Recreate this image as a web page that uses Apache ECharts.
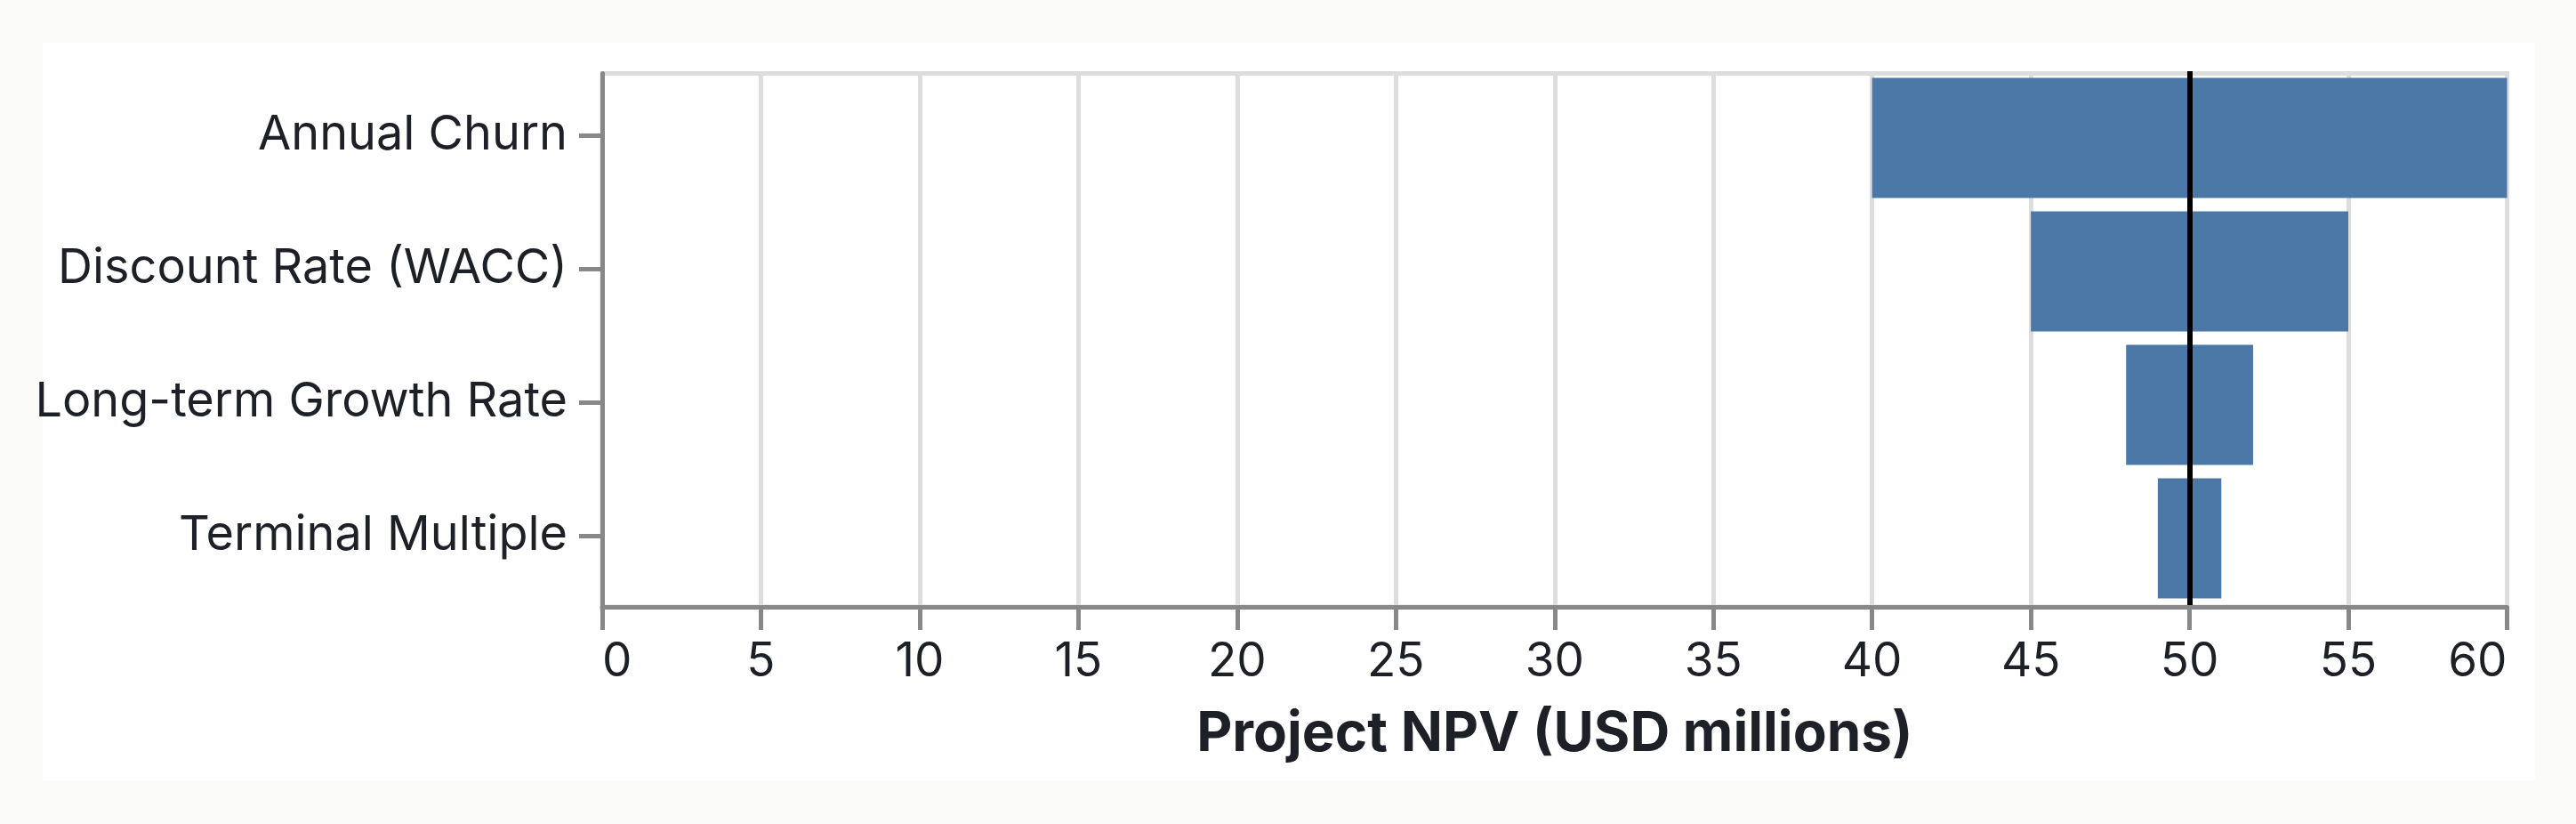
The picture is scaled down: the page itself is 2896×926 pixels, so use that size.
<!DOCTYPE html>
<html>
<head>
<meta charset="utf-8">
<script src="https://cdn.jsdelivr.net/npm/echarts@6/dist/echarts.min.js"></script>
<style>
  html, body { margin: 0; padding: 0; background: #fbfbf9; }
  #chart { width: 2896px; height: 926px; }
</style>
</head>
<body>
<div id="chart"></div>
<script>
const categories = ['Annual Churn', 'Discount Rate (WACC)', 'Long-term Growth Rate', 'Terminal Multiple'];
const lowValues = [40, 45, 48, 49];
const highValues = [60, 55, 52, 51];
const baseValue = 50;
const xMin = 0, xMax = 60, xStep = 5;
const xTitle = 'Project NPV (USD millions)';

const spanValues = highValues.map((h, i) => h - lowValues[i]);
const FONT = 'Inter, "Noto Sans", sans-serif';
const TEXT = '#1d2027';
const AXIS = '#888888';
const GRID = '#dddddd';

const chart = echarts.init(document.getElementById('chart'), null, { renderer: 'canvas' });
chart.setOption({
  animation: false,
  backgroundColor: '#fbfbf9',
  graphic: [{
    type: 'rect', z: -10, silent: true,
    shape: { x: 48, y: 48, width: 2802, height: 829 },
    style: { fill: '#ffffff' }
  }],
  grid: [
    // frame, x axis, gridlines
    { left: 677, right: 77.5, top: 82.5, bottom: 244,
      show: true, borderColor: GRID, borderWidth: 5, backgroundColor: 'transparent' },
    // category labels + ticks
    { left: 677, right: 77.5, top: 77, bottom: 249, show: false },
    // bars + reference line
    { left: 677, right: 77.5, top: 80, bottom: 246, show: false }
  ],
  xAxis: [
    {
      gridIndex: 0, type: 'value', min: xMin, max: xMax, interval: xStep,
      name: xTitle, nameLocation: 'middle', nameGap: 112,
      nameTextStyle: { fontFamily: FONT, fontSize: 62, fontWeight: 'bold', color: TEXT },
      axisLine: { show: true, lineStyle: { color: AXIS, width: 5 } },
      axisTick: { show: true, length: 26, lineStyle: { color: AXIS, width: 5 } },
      axisLabel: {
        fontFamily: FONT, fontSize: 53, color: TEXT, margin: 36,
        alignMinLabel: 'left', alignMaxLabel: 'right'
      },
      splitLine: { show: true, lineStyle: { color: GRID, width: 5 } }
    },
    { gridIndex: 1, type: 'value', min: xMin, max: xMax, show: false },
    { gridIndex: 2, type: 'value', min: xMin, max: xMax, show: false }
  ],
  yAxis: [
    {
      gridIndex: 0, type: 'category', data: categories, inverse: true,
      axisLine: { show: true, lineStyle: { color: AXIS, width: 5 } },
      axisTick: { show: false }, axisLabel: { show: false }, splitLine: { show: false }
    },
    {
      gridIndex: 1, type: 'category', data: categories, inverse: true,
      axisLine: { show: false },
      axisTick: { show: true, length: 26, alignWithLabel: true, lineStyle: { color: AXIS, width: 5 } },
      axisLabel: { fontFamily: FONT, fontSize: 54, color: TEXT, margin: 39, padding: [7, 0, 0, 0] },
      splitLine: { show: false }
    },
    { gridIndex: 2, type: 'category', data: categories, inverse: true, show: false }
  ],
  series: [
    {
      type: 'bar', xAxisIndex: 2, yAxisIndex: 2, stack: 'range', data: lowValues, silent: true,
      itemStyle: { color: 'transparent' }, barCategoryGap: '10%'
    },
    {
      type: 'bar', xAxisIndex: 2, yAxisIndex: 2, stack: 'range', data: spanValues, silent: true,
      itemStyle: { color: '#4c78a8' }, barCategoryGap: '10%',
      markLine: {
        silent: true, symbol: 'none', animation: false,
        label: { show: false },
        lineStyle: { color: '#000000', width: 6, type: 'solid' },
        data: [{ xAxis: baseValue }]
      }
    }
  ]
});
</script>
</body>
</html>
